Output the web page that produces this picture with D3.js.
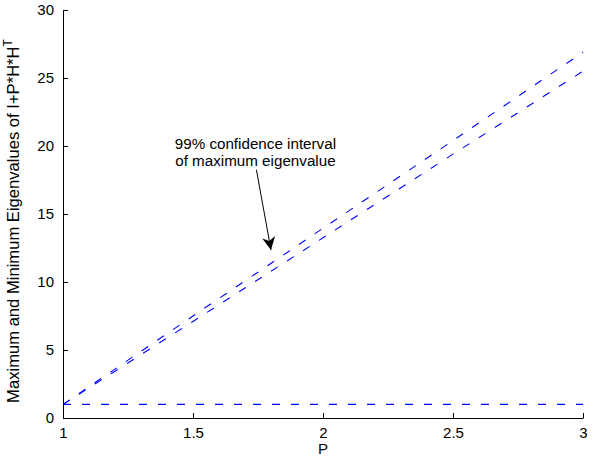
<!DOCTYPE html>
<html>
<head>
<meta charset="utf-8">
<script src="https://cdn.jsdelivr.net/npm/d3@7"></script>
<style>
  body { margin: 0; background: #fff; }
  text { font-family: "Liberation Sans", Arial, sans-serif; }
</style>
</head>
<body>
<div id="chart"></div>
<script>
// values
const pValues = [1, 1.5, 2, 2.5, 3];
const maxUpper = [1, 7.5, 13.95, 20.4, 26.9];
const maxLower = [1, 7.1, 13.25, 19.4, 25.5];
const minEig = [1, 1, 1, 1, 1];
const xTicks = [1, 1.5, 2, 2.5, 3];
const yTicks = [0, 5, 10, 15, 20, 25, 30];

const margin = { top: 10, right: 17, bottom: 42, left: 63 };
const width = 600 - margin.left - margin.right;
const height = 460 - margin.top - margin.bottom;

const svg = d3.select("#chart")
    .append("svg")
    .attr("width", 600)
    .attr("height", 460)
    .append("g")
    .attr("transform", "translate(" + margin.left + "," + margin.top + ")");

const x = d3.scaleLinear().domain([1, 3]).range([0, width]);
const y = d3.scaleLinear().domain([0, 30]).range([height, 0]);

const xAxis = d3.axisBottom(x)
    .tickValues(xTicks)
    .tickFormat(d => d)
    .tickSize(-5)
    .tickSizeOuter(0)
    .tickPadding(9);

const yAxis = d3.axisLeft(y)
    .tickValues(yTicks)
    .tickSize(-5)
    .tickSizeOuter(0)
    .tickPadding(9);

svg.append("g")
    .attr("transform", "translate(0," + height + ")")
    .call(xAxis)
    .call(g => g.selectAll("text").attr("font-size", 15).attr("fill", "#000").attr("font-family", "Liberation Sans, Arial"))
    .call(g => g.selectAll("line, path").attr("stroke", "#000"));

svg.append("g")
    .call(yAxis)
    .call(g => g.selectAll("text").attr("font-size", 15).attr("fill", "#000").attr("font-family", "Liberation Sans, Arial"))
    .call(g => g.selectAll("line, path").attr("stroke", "#000"));

const line = d3.line()
    .x(d => x(d[0]))
    .y(d => y(d[1]));

[maxUpper, maxLower, minEig].forEach(series => {
    svg.append("path")
        .datum(d3.zip(pValues, series))
        .attr("d", line)
        .attr("fill", "none")
        .attr("stroke", "#0000ff")
        .attr("stroke-width", 1.1)
        .attr("stroke-dasharray", "8,11");
});

// axis labels
svg.append("text")
    .attr("x", width / 2)
    .attr("y", height + 36)
    .attr("text-anchor", "middle")
    .attr("font-size", 15)
    .text("P");

const yLabel = svg.append("text")
    .attr("transform", "translate(-44," + (height / 2 + 7) + ") rotate(-90)")
    .attr("text-anchor", "middle")
    .attr("font-size", 16.6);
yLabel.append("tspan").text("Maximum and Minimum Eigenvalues of I+P*H*H");
yLabel.append("tspan").attr("dy", -7).attr("font-size", 12).text("T");

// annotation
svg.append("defs").append("marker")
    .attr("id", "arrow")
    .attr("viewBox", "0 0 10 10")
    .attr("refX", 10)
    .attr("refY", 5)
    .attr("markerWidth", 13)
    .attr("markerHeight", 13)
    .attr("markerUnits", "userSpaceOnUse")
    .attr("orient", "auto")
    .append("path")
    .attr("d", "M0,0 L10,5 L0,10 L3,5 Z")
    .attr("fill", "#000");

const noteX = 1.74, noteY = 19.8;
const tipX = 1.8, tipY = 12.35;

svg.append("line")
    .attr("x1", x(noteX) + 1)
    .attr("y1", y(noteY) + 21)
    .attr("x2", x(tipX))
    .attr("y2", y(tipY))
    .attr("stroke", "#000")
    .attr("stroke-width", 1)
    .attr("marker-end", "url(#arrow)");

const note = svg.append("text")
    .attr("text-anchor", "middle")
    .attr("font-size", 15.2);
note.append("tspan").attr("x", x(noteX)).attr("y", y(noteY)).text("99% confidence interval");
note.append("tspan").attr("x", x(noteX)).attr("y", y(noteY) + 17.5).text("of maximum eigenvalue");
</script>
</body>
</html>
